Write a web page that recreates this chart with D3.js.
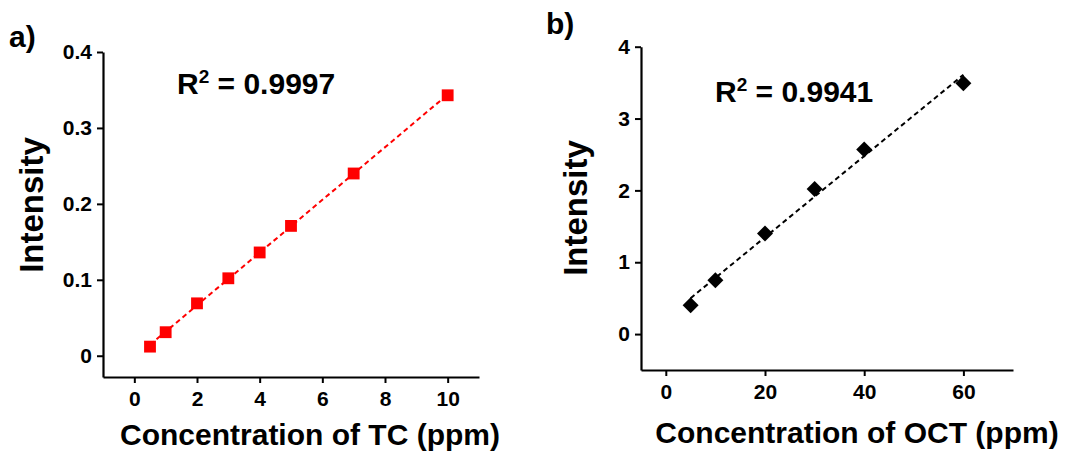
<!DOCTYPE html>
<html><head><meta charset="utf-8">
<script src="https://cdn.jsdelivr.net/npm/d3@7"></script>
<style>
html,body{margin:0;padding:0;background:#fff;}
svg{display:block;font-family:"Liberation Sans",Arial,sans-serif;font-weight:bold;}
</style></head>
<body>
<svg id="chart" width="1087" height="452"></svg>
<script>
// Panel a data (TC)
const tcConc = [0.5, 1, 2, 3, 4, 5, 7, 10];
const tcIntensity = [0.012, 0.031, 0.069, 0.102, 0.136, 0.171, 0.240, 0.343];
const tcXTicks = [0, 2, 4, 6, 8, 10];
const tcYTicks = [0, 0.1, 0.2, 0.3, 0.4];
const tcYTickLabels = ["0", "0.1", "0.2", "0.3", "0.4"];
// Panel b data (OCT)
const octConc = [5, 10, 20, 30, 40, 60];
const octIntensity = [0.40, 0.75, 1.40, 2.02, 2.57, 3.49];
const octXTicks = [0, 20, 40, 60];
const octYTicks = [0, 1, 2, 3, 4];
const octYTickLabels = ["0", "1", "2", "3", "4"];
const r2Labels = ["0.9997", "0.9941"];

const svg = d3.select("#chart");

function fit(xs, ys){
  const n = xs.length, mx = d3.mean(xs), my = d3.mean(ys);
  let sxy = 0, sxx = 0;
  for (let i=0;i<n;i++){ sxy += (xs[i]-mx)*(ys[i]-my); sxx += (xs[i]-mx)**2; }
  const b = sxy/sxx; return {b, a: my - b*mx};
}

function panel(o){
  const g = svg.append("g");
  const x = d3.scaleLinear().domain(o.xDom).range([o.left, o.right]);
  const y = d3.scaleLinear().domain(o.yDom).range([o.bottom, o.top]);

  const xAxisG = g.append("g").attr("transform", `translate(0,${o.bottom})`);
  xAxisG.call(d3.axisBottom(x).tickValues(o.xMinor).tickSize(4).tickFormat(""));
  xAxisG.call(d3.axisBottom(x).tickValues(o.xTicks).tickSize(6).tickSizeOuter(0).tickPadding(5).tickFormat(d3.format("d")));
  const yAxisG = g.append("g").attr("transform", `translate(${o.left},0)`);
  yAxisG.call(d3.axisLeft(y).tickValues(o.yMinor).tickSize(4).tickFormat(""));
  yAxisG.call(d3.axisLeft(y).tickValues(o.yTicks).tickSize(6).tickSizeOuter(0).tickPadding(5).tickFormat((d,i)=>o.yLabels[i]));

  g.selectAll(".domain").attr("stroke","#000").attr("stroke-width",2.2);
  g.selectAll(".tick line").attr("stroke","#000").attr("stroke-width",2);
  g.selectAll(".tick text").attr("fill","#000").attr("font-size",21)
    .attr("font-family","'Liberation Sans',Arial,sans-serif").attr("font-weight","bold");
  xAxisG.selectAll(".tick text").attr("dy","0.88em");

  // fit line
  const f = fit(o.xs, o.ys);
  const x0 = d3.min(o.xs), x1 = d3.max(o.xs);
  g.append("line")
    .attr("x1", x(x0)).attr("y1", y(f.a + f.b*x0))
    .attr("x2", x(x1)).attr("y2", y(f.a + f.b*x1))
    .attr("stroke", o.color).attr("stroke-width", 2).attr("stroke-dasharray","5,3.5");

  // markers
  const sym = d3.symbol().type(o.symbol).size(o.symSize);
  g.selectAll(".pt").data(o.xs).join("path")
    .attr("d", sym)
    .attr("transform", (d,i)=>`translate(${x(d)},${y(o.ys[i])})${o.rot?" rotate(45)":""}`)
    .attr("fill", o.color);

  // R^2 text
  const t = g.append("text").attr("x", o.r2x).attr("y", o.r2y).attr("font-size", 30).attr("fill","#000");
  t.append("tspan").text("R");
  t.append("tspan").attr("font-size", 19).attr("dy", -11).text("2");
  t.append("tspan").attr("dy", 11).text(" = " + o.r2);

  // axis titles
  g.append("text").attr("x", (o.left+o.right)/2 + o.xtDx).attr("y", o.xtY).attr("text-anchor","middle")
    .attr("font-size", 30).attr("fill","#000").text(o.xTitle);
  g.append("text").attr("transform", `translate(${o.ytX},${o.ytY}) rotate(-90)`).attr("text-anchor","middle")
    .attr("font-size", 33).attr("fill","#000").text("Intensity");
  g.append("text").attr("x", o.letX).attr("y", o.letY).attr("font-size", 30).attr("fill","#000").text(o.letter);
}

panel({
  xDom:[-1,11], yDom:[-0.028,0.4], left:103, right:479, top:52, bottom:377,
  xTicks: tcXTicks, xMinor:[1,3,5,7,9], yTicks: tcYTicks, yLabels: tcYTickLabels,
  yMinor:[0.05,0.15,0.25,0.35],
  xs: tcConc, ys: tcIntensity, color:"#ff0000", symbol:d3.symbolSquare, symSize:140, rot:false,
  r2:r2Labels[0], r2x:177, r2y:94, xTitle:"Concentration of TC (ppm)", xtDx:19, xtY:445,
  ytX:43, ytY:205, letter:"a)", letX:9, letY:47
});
panel({
  xDom:[-5,70], yDom:[-0.5,4], left:641, right:1013, top:46.7, bottom:370,
  xTicks: octXTicks, xMinor:[10,30,50], yTicks: octYTicks, yLabels: octYTickLabels,
  yMinor:[0.5,1.5,2.5,3.5],
  xs: octConc, ys: octIntensity, color:"#000000", symbol:d3.symbolSquare, symSize:128, rot:true,
  r2:r2Labels[1], r2x:715, r2y:102, xTitle:"Concentration of OCT (ppm)", xtDx:30, xtY:443,
  ytX:587, ytY:208, letter:"b)", letX:546, letY:34
});
</script>
</body></html>
